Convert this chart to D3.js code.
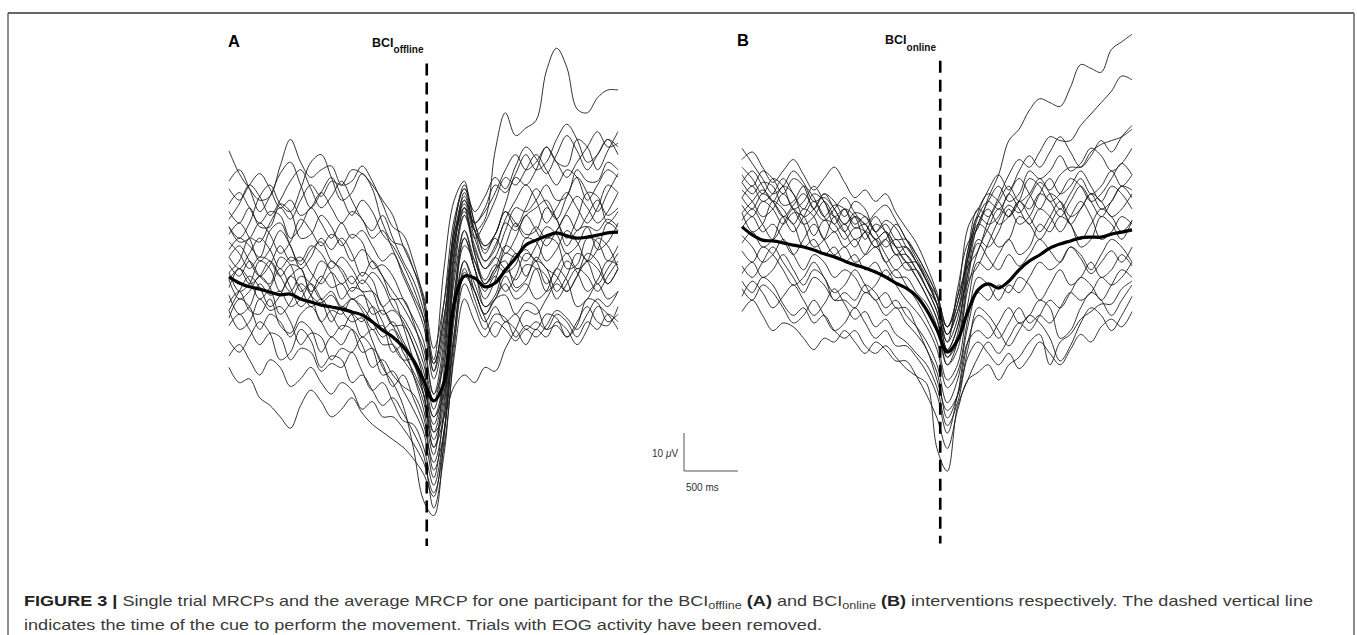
<!DOCTYPE html>
<html>
<head>
<meta charset="utf-8">
<script src="https://cdn.jsdelivr.net/npm/d3@7"></script>
<style>
  body { margin: 0; background: #fff; }
  svg { display: block; font-family: "Liberation Sans", Arial, sans-serif; }
</style>
</head>
<body>
<svg id="fig" width="1357" height="635"></svg>
<script>
// sample times in seconds, cue at 0
const sampleTimes = d3.range(39).map(i => -1.805 + i * 0.095);

// average MRCP, BCI offline (uV)
const meanA = [0.8, -0.8, -1.8, -2.4, -3.2, -3.9, -3.7, -5.0, -5.8, -6.6,
  -7.1, -7.6, -8.4, -9.2, -11.0, -13.2, -15.0, -17.6, -21.0, -26.3,
  -31.8, -27.0, -6.0, 1.0, 0.5, -1.8, -0.8, 2.6, 5.8, 9.2,
  10.5, 11.6, 12.4, 11.6, 11.0, 11.3, 11.8, 12.4, 12.6];

// single trials, BCI offline (uV)
const trialsA = [
  [34, 28, 24, 21, 22, 30, 37, 31, 27, 29, 30, 25, 26, 30, 26, 20, 14, 12, 5, -5, -21, 3, 21, 26, 13, 16, 34, 44, 38, 40, 42, 55, 61, 56, 45, 44, 48, 50, 50],
  [14, 11, 15, 22, 25, 20, 18, 24, 31, 33, 27, 21, 23, 28, 24, 15, 10, 9, 3, -6, -24, -6, 16, 24, 15, 9, 12, 20, 27, 25, 29, 35, 31, 30, 37, 35, 29, 34, 39],
  [-23, -27, -26, -31, -33, -36, -39, -33, -29, -32, -36, -34, -31, -35, -38, -40, -42, -44, -47, -51, -57, -40, -14, 2, -3, -9, -5, -4, -9, -6, -7, -13, -12, -15, -11, -7, -11, -12, -7],
  [2, -3, -1, 5, 3, -3, 1, 3, -4, -6, -4, -8, -11, -10, -16, -23, -27, -33, -44, -58, -62, -42, -8, 9, 5, -1, 3, 5, -2, 0, 6, 3, 1, -3, 1, 7, 5, -1, 3],
  [8, 11, 9, 6, 13, 15, 9, 4, 8, 10, 5, 3, -1, 2, 0, -7, -5, -12, -21, -30, -42, -30, 7, 23, 13, 5, 8, 15, 13, 17, 19, 21, 16, 11, 16, 23, 22, 15, 18],
  [-6, -3, -8, -9, -5, -12, -14, -9, -7, -11, -15, -12, -13, -19, -18, -22, -28, -25, -31, -38, -48, -36, -4, 13, 3, -5, 0, 7, 6, 8, 5, 11, 10, 3, 4, 11, 10, 5, 9],
  [4, 1, 5, 1, -1, 6, 4, -3, 0, 5, 2, -5, -2, -3, -9, -8, -12, -17, -25, -34, -46, -24, 10, 18, 7, -1, 2, 9, 15, 12, 13, 19, 16, 9, 13, 14, 8, 10, 15],
  [-12, -9, -13, -17, -14, -15, -21, -18, -19, -24, -22, -23, -19, -24, -29, -27, -32, -37, -38, -44, -54, -40, -16, -1, -7, -13, -9, -10, -15, -12, -13, -9, -10, -15, -12, -5, -6, -11, -9],
  [18, 15, 19, 14, 14, 20, 18, 11, 12, 17, 14, 9, 12, 10, 3, 4, 1, -5, -10, -16, -30, -22, 6, 17, 9, 3, 6, 13, 19, 18, 21, 25, 21, 22, 29, 26, 26, 31, 29],
  [-2, 3, 0, -5, -2, 3, -2, -7, -4, 1, -2, -1, -5, -4, -7, -13, -11, -16, -21, -28, -38, -26, 4, 19, 7, 0, 4, 2, 4, 11, 10, 5, 8, 13, 10, 5, 8, 15, 13],
  [10, 7, 3, 6, 5, 1, 4, 3, -3, 0, 5, 2, -3, 0, -3, -9, -8, -11, -17, -24, -36, -30, -4, 11, 3, -7, -4, 3, 0, 4, 3, -3, 0, 5, 2, -3, 0, 5, 4],
  [-8, -13, -11, -5, -8, -7, -11, -17, -14, -15, -21, -18, -19, -15, -18, -25, -24, -29, -34, -40, -52, -34, -8, 5, -1, -7, -5, 1, -3, -1, -5, -3, 3, 0, -7, -5, -1, -5, -3],
  [6, 3, 7, 11, 8, 3, 6, 5, 9, 7, 3, 6, 3, -1, 2, -1, -7, -10, -15, -22, -34, -20, 8, 21, 15, 19, 25, 23, 28, 33, 29, 31, 37, 41, 37, 31, 33, 37, 33],
  [0, -5, -3, 1, -2, -9, -6, -1, -4, -11, -8, -9, -5, -8, -13, -12, -17, -21, -21, -30, -44, -36, -10, 5, -3, -10, -15, -11, -13, -17, -13, -15, -11, -13, -17, -13, -7, -9, -13],
  [2, 5, 11, 10, 15, 19, 16, 21, 25, 22, 26, 25, 29, 28, 25, 21, 17, 9, 3, -4, -18, -6, 12, 20, 11, 5, 9, 16, 21, 25, 21, 15, 19, 23, 19, 15, 19, 25, 23],
  [-16, -19, -15, -11, -14, -21, -19, -13, -16, -23, -20, -21, -27, -25, -29, -33, -31, -35, -40, -46, -60, -46, -18, 1, -3, -9, -5, -1, -5, -3, 3, 1, -5, -1, 3, 1, -3, 1, 5],
  [12, 15, 11, 5, 8, 13, 9, 3, 6, 11, 8, 11, 7, 1, 5, 1, -5, -5, -11, -20, -32, -18, 14, 25, 15, 7, 11, 7, 11, 17, 13, 9, 13, 17, 13, 17, 21, 17, 19],
  [-4, -9, -7, -1, -4, -3, -7, -5, -1, -5, -11, -7, -9, -15, -13, -17, -17, -21, -25, -32, -44, -32, -6, 11, 3, -3, 1, -3, 1, 7, 5, -1, 3, 7, 3, 5, 11, 9, 3],
  [20, 23, 19, 15, 18, 17, 11, 14, 19, 15, 11, 15, 11, 13, 9, 5, 7, 1, -5, -12, -26, -14, 10, 19, 11, 15, 21, 27, 25, 29, 33, 29, 25, 29, 27, 21, 25, 29, 27],
  [-10, -5, -7, -13, -9, -11, -15, -11, -13, -19, -15, -17, -13, -17, -23, -21, -25, -28, -30, -36, -50, -40, -14, 3, -5, -11, -7, -11, -9, -13, -11, -13, -9, -11, -15, -11, -13, -9, -11],
  [6, 9, 5, 1, 4, 9, 5, 6, 2, -1, 2, -1, 1, -3, -3, -7, -12, -12, -17, -26, -40, -28, 2, 17, 8, 3, 6, 3, 7, 5, 9, 14, 12, 7, 9, 14, 13, 16, 14],
  [-20, -17, -21, -25, -21, -23, -28, -26, -23, -27, -30, -27, -29, -34, -32, -36, -36, -39, -43, -48, -56, -44, -20, -5, -11, -15, -11, -13, -16, -13, -15, -12, -8, -10, -13, -9, -5, -7, -3],
  [0, 3, -1, 1, 5, 1, -3, 1, -1, -5, -3, -7, -5, -7, -11, -15, -13, -19, -24, -30, -40, -36, -28, -25, -27, -23, -24, -18, -13, -8, -9, -5, -1, -3, 1, 5, 3, -1, 3],
  [14, 10, 11, 15, 12, 7, 10, 16, 13, 9, 12, 10, 5, 8, 5, 1, -3, -7, -12, -18, -30, -16, 10, 21, 13, 9, 12, 18, 15, 11, 14, 11, 13, 18, 22, 19, 15, 18, 23],
  [-8, -3, 1, -2, -7, -4, 1, -2, -7, -5, -9, -13, -9, -11, -7, -11, -19, -17, -22, -28, -36, -26, 0, 13, 5, -1, 3, 9, 7, 1, 5, 3, -3, 1, 7, 5, -1, 3, 7],
  [24, 21, 25, 28, 24, 19, 21, 17, 19, 23, 19, 15, 18, 16, 11, 13, 8, 2, -4, -10, -22, -10, 12, 19, 15, 18, 23, 29, 33, 29, 31, 35, 31, 27, 31, 35, 39, 35, 36],
  [26, 29, 24, 18, 22, 28, 31, 25, 19, 23, 27, 22, 17, 21, 18, 12, 9, 4, -2, -10, -24, -12, 14, 24, 18, 22, 27, 24, 30, 35, 32, 28, 33, 38, 34, 29, 33, 37, 35],
  [16, 20, 25, 22, 17, 21, 26, 29, 24, 19, 22, 26, 21, 16, 13, 17, 11, 5, 0, -8, -22, -10, 12, 22, 13, 8, 12, 18, 14, 19, 24, 20, 16, 22, 27, 23, 18, 23, 28]
];

// average MRCP, BCI online (uV)
const meanB = [0.3, -1.8, -3.2, -3.4, -3.9, -4.5, -5.0, -5.8, -6.8, -7.6,
  -8.7, -9.7, -10.5, -11.6, -12.9, -14.5, -15.8, -17.9, -21.6, -26.8,
  -32.6, -29.5, -22.0, -16.3, -14.7, -15.8, -14.0, -11.0, -8.7, -7.1,
  -5.3, -4.2, -3.4, -2.6, -2.4, -2.4, -1.6, -1.1, -0.5];

// single trials, BCI online (uV)
const trialsB = [
  [6, 3, 7, 5, 1, 4, 3, -2, 2, 1, -3, 0, -1, -5, -3, -7, -7, -11, -16, -22, -30, -16, -4, 0, 8, 14, 23, 26, 31, 34, 33, 32, 37, 43, 42, 41, 47, 49, 51],
  [21, 17, 13, 9, 11, 15, 12, 7, 8, 5, 1, 4, 3, -1, 2, 0, -5, -9, -14, -20, -26, -18, -10, -6, 2, 8, 14, 18, 16, 20, 24, 23, 23, 27, 30, 33, 36, 40, 39],
  [12, 9, 12, 11, 6, 7, 11, 8, 3, 6, 5, 0, 1, -3, -1, -5, -9, -9, -14, -20, -28, -22, -14, -10, -4, 2, 6, 4, 8, 12, 10, 14, 16, 16, 20, 22, 23, 24, 26],
  [-22, -19, -23, -27, -25, -26, -29, -32, -29, -30, -27, -30, -33, -30, -32, -35, -35, -39, -44, -50, -58, -48, -40, -38, -36, -40, -36, -34, -30, -28, -36, -30, -28, -24, -22, -20, -20, -16, -14],
  [-14, -17, -13, -15, -20, -23, -21, -25, -23, -27, -29, -27, -31, -33, -31, -34, -37, -39, -41, -58, -64, -47, -40, -34, -30, -33, -29, -25, -27, -23, -19, -21, -17, -13, -15, -19, -15, -11, -13],
  [2, 5, 1, -3, 1, 5, 1, -5, -3, 3, -1, -5, -1, -3, -9, -7, -11, -11, -16, -22, -34, -30, -16, -6, 0, 5, 3, 7, 5, 9, 7, 3, 7, 11, 7, 3, 7, 11, 8],
  [14, 11, 15, 13, 9, 13, 11, 5, 9, 7, 3, 7, 5, -1, 1, -3, -3, -7, -12, -18, -30, -24, -6, 5, 3, 7, 11, 7, 9, 13, 9, 5, 9, 13, 9, 11, 15, 11, 14],
  [-4, -1, -5, -3, 3, 1, -5, -3, -7, -5, -9, -7, -11, -9, -13, -11, -15, -19, -24, -30, -40, -36, -20, -9, -11, -7, -3, -7, -5, 1, -1, 3, 1, -5, -3, 3, 1, -3, 2],
  [8, 11, 7, 9, 13, 9, 5, 9, 7, 1, 5, 3, -3, 1, -1, -7, -5, -9, -14, -20, -32, -26, -10, 3, 7, 5, 9, 13, 9, 5, 9, 7, 1, 5, 9, 5, 7, 11, 10],
  [-12, -9, -13, -11, -7, -11, -15, -11, -13, -19, -17, -19, -15, -17, -21, -19, -23, -26, -30, -36, -46, -40, -26, -17, -19, -15, -17, -13, -15, -19, -15, -11, -15, -13, -9, -13, -11, -7, -10],
  [4, -1, 1, 7, 5, 1, 5, 3, -3, -1, -5, -3, -7, -5, -9, -13, -13, -17, -20, -26, -36, -32, -14, -3, -5, -1, 5, 1, 3, 9, 13, 9, 11, 15, 11, 7, 11, 9, 5],
  [16, 13, 9, 13, 11, 5, 7, 11, 7, 3, 5, 1, 3, -1, -5, -3, -7, -11, -16, -20, -28, -20, -8, 1, 7, 11, 7, 9, 15, 13, 15, 19, 15, 17, 21, 19, 15, 17, 21],
  [-6, -9, -5, -7, -11, -15, -13, -9, -13, -17, -15, -11, -15, -19, -17, -21, -21, -26, -32, -38, -50, -44, -30, -23, -25, -29, -25, -21, -25, -23, -25, -21, -17, -19, -17, -13, -15, -13, -9],
  [10, 7, 3, 5, 9, 5, 1, 3, 7, 3, -1, 3, 1, -3, -1, -5, -9, -13, -18, -24, -34, -28, -8, 3, 1, 3, 9, 5, 1, 5, 3, -1, 3, 7, 3, -3, -1, 3, 1],
  [-16, -19, -15, -17, -21, -25, -23, -19, -23, -27, -25, -21, -25, -29, -27, -31, -31, -34, -38, -44, -54, -44, -30, -27, -29, -25, -21, -25, -23, -19, -21, -29, -27, -21, -17, -19, -23, -19, -15],
  [0, 3, -1, 1, -3, -7, -3, 1, -3, -7, -5, -9, -7, -3, -7, -11, -9, -13, -18, -24, -36, -30, -12, 1, 5, 1, 3, 7, 3, -1, 3, 7, 3, 5, 9, 7, 3, 5, 9],
  [8, 5, 9, 7, 3, -1, 3, 7, 3, -1, 1, -3, -1, 3, -1, -5, -5, -9, -14, -18, -26, -18, 0, 5, 9, 7, 3, 7, 13, 11, 7, 9, 13, 11, 7, 9, 13, 17, 14],
  [-2, -5, -9, -7, -3, -7, -11, -7, -9, -13, -11, -13, -17, -15, -11, -15, -19, -22, -26, -32, -42, -38, -24, -13, -15, -19, -15, -17, -13, -9, -11, -9, -5, -7, -11, -7, -3, -5, -9],
  [12, 15, 11, 7, 11, 9, 3, 5, 9, 5, 1, 3, -1, -5, -3, 1, -3, -7, -12, -18, -28, -22, -8, 1, -1, -5, -3, 3, 1, -3, 1, 5, 1, -3, 1, 5, 3, -1, 2],
  [-10, -13, -9, -5, -9, -13, -17, -13, -15, -19, -19, -21, -17, -19, -23, -21, -25, -28, -32, -40, -48, -44, -32, -21, -23, -27, -31, -27, -23, -25, -29, -35, -31, -25, -21, -23, -27, -23, -18],
  [18, 20, 16, 12, 15, 18, 14, 10, 13, 16, 12, 8, 10, 7, 9, 4, 0, -4, -10, -17, -26, -20, -6, 4, 10, 14, 10, 15, 19, 16, 20, 24, 20, 16, 19, 23, 20, 24, 27],
  [-18, -14, -17, -21, -18, -15, -19, -23, -20, -16, -20, -24, -22, -26, -24, -28, -30, -33, -36, -42, -52, -46, -34, -30, -33, -36, -33, -37, -34, -30, -33, -36, -32, -28, -30, -26, -24, -26, -22],
  [4, 7, 10, 7, 3, 6, 9, 5, 2, 5, 8, 4, 1, 4, 6, 2, -3, -8, -13, -20, -32, -26, -12, -4, -8, -11, -7, -10, -7, -3, -6, -9, -5, -8, -12, -9, -6, -9, -5]
];

const panelLabels = ['A', 'B'];
const cueSubscripts = ['offline', 'online'];
const scaleBarValues = { uV: 10, ms: 500 };

const svg = d3.select('#fig');

// figure frame (top, left, right edges)
svg.append('line').attr('x1', 8).attr('y1', 13).attr('x2', 1354).attr('y2', 13)
    .attr('stroke', '#333').attr('stroke-width', 1.6);
svg.append('line').attr('x1', 8).attr('y1', 13).attr('x2', 8).attr('y2', 635)
    .attr('stroke', '#444').attr('stroke-width', 1.2);
svg.append('line').attr('x1', 1354).attr('y1', 13).attr('x2', 1354).attr('y2', 635)
    .attr('stroke', '#888').attr('stroke-width', 2);

// panel layout
const panels = [
    { mean: meanA, trials: trialsA, xr: [229, 618], yDom: [-70, 57], yr: [546, 63.4],
      labelX: 228, labelY: 47, cueX: 372, cueY: 47, subDy: 6 },
    { mean: meanB, trials: trialsB, xr: [742, 1132], yDom: [-83, 44], yr: [543.4, 60.8],
      labelX: 737, labelY: 46, cueX: 885, cueY: 44, subDy: 7 }
];

let scaleRef = null;

panels.forEach((p, k) => {
    const x = d3.scaleLinear().domain([-1.805, 1.805]).range(p.xr);
    const y = d3.scaleLinear().domain(p.yDom).range(p.yr);
    if (!scaleRef) scaleRef = { x, y };

    const line = d3.line()
        .x((d, i) => x(sampleTimes[i]))
        .y(d => y(d))
        .curve(d3.curveCatmullRom.alpha(0.5));

    const g = svg.append('g').attr('class', 'panel');

    // single trials
    g.selectAll('.trial')
        .data(p.trials)
        .enter()
        .append('path')
        .attr('class', 'trial')
        .attr('d', line)
        .attr('fill', 'none')
        .attr('stroke', '#1c1c1c')
        .attr('stroke-width', 0.9);

    // cue marker
    g.append('line')
        .attr('x1', x(0.03)).attr('x2', x(0.03))
        .attr('y1', y(p.yDom[1])).attr('y2', y(p.yDom[0]))
        .attr('stroke', '#000')
        .attr('stroke-width', 2.6)
        .attr('stroke-dasharray', '12,7');

    // average
    g.append('path')
        .datum(p.mean)
        .attr('d', line)
        .attr('fill', 'none')
        .attr('stroke', '#000')
        .attr('stroke-width', 3.2)
        .attr('stroke-linejoin', 'round');

    // panel letter
    g.append('text')
        .attr('x', p.labelX).attr('y', p.labelY)
        .attr('font-size', 16.5).attr('font-weight', 'bold')
        .text(panelLabels[k]);

    // cue label
    const cue = g.append('text')
        .attr('x', p.cueX).attr('y', p.cueY)
        .attr('font-weight', 'bold')
        .attr('fill', '#111');
    cue.append('tspan').attr('font-size', 12.5).text('BCI');
    cue.append('tspan').attr('font-size', 10).attr('dy', p.subDy).text(cueSubscripts[k]);
});

// scale bar
const sbX = 684, sbY = 471;
const sbW = scaleRef.x(scaleBarValues.ms / 1000) - scaleRef.x(0);
const sbH = scaleRef.y(0) - scaleRef.y(scaleBarValues.uV);
svg.append('path')
    .attr('d', `M${sbX},${sbY - sbH}V${sbY}H${sbX + sbW}`)
    .attr('fill', 'none')
    .attr('stroke', '#555')
    .attr('stroke-width', 1);
const uvLabel = svg.append('text').attr('x', 652).attr('y', 457)
    .attr('font-size', 10).attr('fill', '#333');
uvLabel.append('tspan').text(scaleBarValues.uV + ' ');
uvLabel.append('tspan').attr('font-style', 'italic').text('\u03bc');
uvLabel.append('tspan').text('V');
svg.append('text').attr('x', 686).attr('y', 491)
    .attr('font-size', 10).attr('fill', '#333')
    .text(scaleBarValues.ms + ' ms');

// caption
const cap1 = svg.append('text')
    .attr('x', 24).attr('y', 606)
    .attr('font-size', 15).attr('fill', '#3a3a3a')
    .attr('textLength', 1289).attr('lengthAdjust', 'spacingAndGlyphs');
cap1.append('tspan').attr('font-weight', 'bold').attr('fill', '#222').text('FIGURE 3 | ');
cap1.append('tspan').text('Single trial MRCPs and the average MRCP for one participant for the BCI');
cap1.append('tspan').attr('font-size', 10.5).attr('dy', 3).text('offline');
cap1.append('tspan').attr('dy', -3).attr('font-weight', 'bold').attr('fill', '#222').text(' (A)');
cap1.append('tspan').text(' and BCI');
cap1.append('tspan').attr('font-size', 10.5).attr('dy', 3).text('online');
cap1.append('tspan').attr('dy', -3).attr('font-weight', 'bold').attr('fill', '#222').text(' (B)');
cap1.append('tspan').text(' interventions respectively. The dashed vertical line');

svg.append('text')
    .attr('x', 24).attr('y', 630)
    .attr('font-size', 15).attr('fill', '#3a3a3a')
    .attr('textLength', 798).attr('lengthAdjust', 'spacingAndGlyphs')
    .text('indicates the time of the cue to perform the movement. Trials with EOG activity have been removed.');
</script>
</body>
</html>
